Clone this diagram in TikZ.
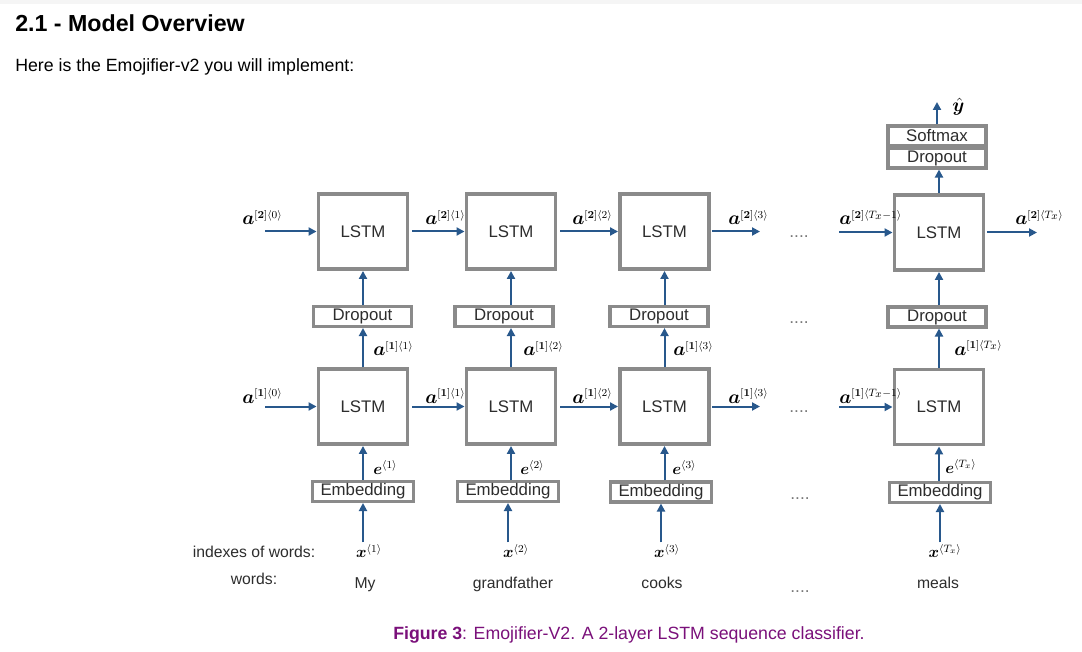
\documentclass[tikz,border=0pt]{standalone}
\usepackage[no-math]{fontspec}
\setmainfont{Liberation Sans}
\usepackage{amsmath,bm}
\usetikzlibrary{arrows.meta}
\definecolor{arrblue}{RGB}{40,88,140}
\definecolor{boxc}{RGB}{138,138,138}
\definecolor{txtc}{RGB}{45,45,45}
\definecolor{capc}{RGB}{122,16,122}
\definecolor{dotc}{RGB}{120,120,120}
\newcommand\actv[2]{\bm{a}^{\scriptscriptstyle[\mathbf{#1}]\langle #2\rangle}}
\begin{document}
\begin{tikzpicture}[x=0.75pt,y=-0.75pt,
  box/.style={draw=boxc, line width=2.3pt, fill=white, inner sep=0pt, text=txtc, font=\fontsize{12.6}{15}\selectfont},
  lstm/.style={box, line width=2.8pt, minimum width=66.9pt, minimum height=56.4pt},
  thinbox/.style={box, minimum width=73.5pt, minimum height=15pt},
  embbox/.style={box, minimum width=75.8pt, minimum height=15pt},
  flow/.style={draw=arrblue, line width=1.5pt, -{Triangle[length=6pt,width=6pt]}},
  lab/.style={inner sep=0pt, anchor=base west, font=\fontsize{15.5}{18}\selectfont},
  slab/.style={inner sep=0pt, anchor=base west, font=\fontsize{12}{14}\selectfont},
  word/.style={inner sep=0pt, anchor=base, text=txtc, font=\fontsize{11.8}{14}\selectfont},
  dots/.style={inner sep=0pt, anchor=base, text=dotc, font=\fontsize{13}{15}\selectfont},
  xlab/.style={inner sep=1pt, font=\fontsize{12}{14}\selectfont}
]
\useasboundingbox (0,0) rectangle (1082,652);
\fill[gray!8] (0,0) rectangle (1082,4);

% titles
\node[inner sep=0pt, anchor=base west, font=\fontsize{17.4}{20}\selectfont\bfseries] (title) at (15,32) {2.1 - Model Overview};
\node[inner sep=0pt, anchor=base west, font=\fontsize{13.3}{16}\selectfont] (intro) at (15,72) {Here is the Emojifier-v2 you will implement:};

% boxes
\node[lstm] (L21) at (363,231.5) {LSTM};
\node[lstm] (L22) at (511,231.5) {LSTM};
\node[lstm] (L23) at (664.5,231.5) {LSTM};
\node[lstm] (L24) at (939,232.5) {LSTM};
\node[lstm] (L11) at (363,406.5) {LSTM};
\node[lstm] (L12) at (511,406.5) {LSTM};
\node[lstm] (L13) at (664.5,406.5) {LSTM};
\node[lstm] (L14) at (939,407) {LSTM};
\node[thinbox] (D1) at (362.5,316.5) {Dropout};
\node[thinbox] (D2) at (504,316.5) {Dropout};
\node[thinbox] (D3) at (659,316.5) {Dropout};
\node[thinbox] (D4) at (937,317) {Dropout};
\node[embbox] (E1) at (363,491.5) {Embedding};
\node[embbox] (E2) at (508,491.5) {Embedding};
\node[embbox] (E3) at (661,492) {Embedding};
\node[embbox] (E4) at (940,492.5) {Embedding};
\node[thinbox] (TD) at (937,158) {Dropout};
\node[thinbox] (SM) at (937,136) {Softmax};

% x labels
\node[xlab] (X1) at (369,551) {$\bm{x}^{\langle 1\rangle}$};
\node[xlab] (X2) at (516,551) {$\bm{x}^{\langle 2\rangle}$};
\node[xlab] (X3) at (667,551) {$\bm{x}^{\langle 3\rangle}$};
\node[xlab] (X4) at (945,551) {$\bm{x}^{\langle T_x\rangle}$};

% coordinates for free ends
\coordinate (i2) at (265,231.5);
\coordinate (i1) at (265,406.5);
\coordinate (o23) at (760,231.5);
\coordinate (o13) at (760,406.5);
\coordinate (i24) at (839,232.5);
\coordinate (i14) at (839,407);
\coordinate (o24) at (1037,232.5);
\coordinate (yh) at (937,102);

% horizontal arrows
\draw[flow] (i2) -- (L21.west);
\draw[flow, shorten <=2pt] (L21.east) -- (L22.west);
\draw[flow, shorten <=2pt] (L22.east) -- (L23.west);
\draw[flow, shorten <=1pt] (L23.east) -- (o23);
\draw[flow] (i24) -- (L24.west);
\draw[flow, shorten <=1pt] (L24.east) -- (o24);
\draw[flow] (i1) -- (L11.west);
\draw[flow, shorten <=2pt] (L11.east) -- (L12.west);
\draw[flow, shorten <=2pt] (L12.east) -- (L13.west);
\draw[flow, shorten <=1pt] (L13.east) -- (o13);
\draw[flow] (i14) -- (L14.west);

% vertical arrows
\foreach \c in {1,2,3,4}{
  \draw[flow] (L1\c.north) -- (L1\c.north |- D\c.south);
  \draw[flow] (L1\c.north |- D\c.north) -- (L2\c.south);
  \draw[flow] (L1\c.south |- E\c.north) -- (L1\c.south);
  \draw[flow] (E\c.south |- X\c.north) -- (E\c.south);
}
\draw[flow] (L24.north) -- (L24.north |- TD.south);
\draw[flow] (SM.north) -- (yh);
\node[inner sep=0pt, anchor=base west, font=\fontsize{14}{16}\selectfont] (yhat) at (952,112) {$\hat{\bm{y}}$};

% horizontal labels
\node[lab] (a20) at (242,225) {$\actv{2}{0}$};
\node[lab] (a21) at (425,225) {$\actv{2}{1}$};
\node[lab] (a22) at (572,225) {$\actv{2}{2}$};
\node[lab] (a23) at (728,225) {$\actv{2}{3}$};
\node[lab] (a2t) at (839,225) {$\actv{2}{T_x-1}$};
\node[lab] (a2T) at (1015,225) {$\actv{2}{T_x}$};
\node[lab] (a10) at (242,403) {$\actv{1}{0}$};
\node[lab] (a11) at (425,403) {$\actv{1}{1}$};
\node[lab] (a12) at (572,403) {$\actv{1}{2}$};
\node[lab] (a13) at (728,403) {$\actv{1}{3}$};
\node[lab] (a1t) at (839,403) {$\actv{1}{T_x-1}$};

% vertical labels
\node[lab] (v1) at (373,356) {$\actv{1}{1}$};
\node[lab] (v2) at (523,356) {$\actv{1}{2}$};
\node[lab] (v3) at (673,356) {$\actv{1}{3}$};
\node[lab] (v4) at (954,355) {$\actv{1}{T_x}$};
\node[slab] (e1) at (373,474) {$\bm{e}^{\langle 1\rangle}$};
\node[slab] (e2) at (520,474) {$\bm{e}^{\langle 2\rangle}$};
\node[slab] (e3) at (672,474) {$\bm{e}^{\langle 3\rangle}$};
\node[slab] (e4) at (945,473) {$\bm{e}^{\langle T_x\rangle}$};

% words
\node[word] (w0a) at (254,557) {indexes of words:};
\node[word] (w0b) at (254,584) {words:};
\node[word] (w1) at (365,588) {My};
\node[word] (w2) at (513,588) {grandfather};
\node[word] (w3) at (662,588) {cooks};
\node[word] (w4) at (938,588) {meals};

% dots
\node[dots] (d1) at (799,238) {....};
\node[dots] (d2) at (799,324) {....};
\node[dots] (d3) at (799,412) {....};
\node[dots] (d4) at (800,499) {....};
\node[dots] (d5) at (800,592) {....};

% caption
\node[inner sep=0pt, anchor=base west, text=capc, font=\fontsize{13.3}{16}\selectfont] (cap) at (393,639) {\textbf{Figure 3}: Emojifier-V2. A 2-layer LSTM sequence classifier.};
\end{tikzpicture}
\end{document}
